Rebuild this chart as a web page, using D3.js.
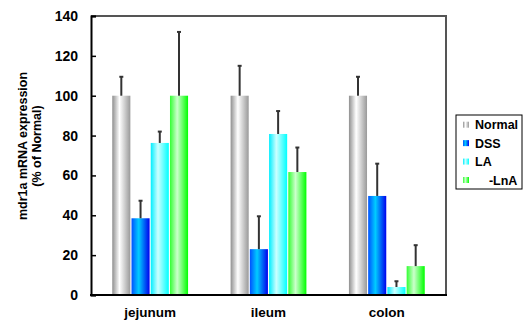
<!DOCTYPE html>
<html>
<head>
<meta charset="utf-8">
<script src="https://cdn.jsdelivr.net/npm/d3@7"></script>
<style>
  body { margin: 0; background: #fff; }
  text { font-family: "Liberation Sans", Arial, sans-serif; font-weight: bold; }
</style>
</head>
<body>
<svg width="524" height="322"></svg>
<script>
// data
const categories = ['jejunum', 'ileum', 'colon'];
const series = ['Normal', 'DSS', 'LA', '-LnA'];
const legendLabels = ['Normal', 'DSS', 'LA', '    -LnA'];
const normalVals = [100, 100, 100];
const dssVals = [38.5, 23, 49.7];
const laVals = [76.3, 80.8, 4];
const lnaVals = [100, 61.7, 14.5];
const normalErr = [9.5, 15, 9.5];
const dssErr = [8.8, 16.5, 16.2];
const laErr = [5.7, 11.5, 2.9];
const lnaErr = [32, 12.3, 10.5];
const yTicks = [0, 20, 40, 60, 80, 100, 120, 140];

const values = [normalVals, dssVals, laVals, lnaVals];
const errs = [normalErr, dssErr, laErr, lnaErr];

// gradient stops per series: left edge, bright centre, right edge
const grads = [
  ['#8f8f8f', '#ffffff', '#999999'],
  ['#0050ff', '#00ccff', '#0000ee'],
  ['#00eeff', '#ccffff', '#00ffff'],
  ['#33ff33', '#ccffcc', '#00ff00']
];

const svg = d3.select('svg');
const pLeft = 91, pRight = 446, pTop = 16, pBottom = 295;

const x0 = d3.scaleBand().domain(categories).range([pLeft, pRight])
  .paddingInner(0.34).paddingOuter(0.17);
const x1 = d3.scaleBand().domain(series).range([0, x0.bandwidth()]).padding(0.06);
const y = d3.scaleLinear().domain([0, 140]).range([pBottom, pTop]);

// gradients
const defs = svg.append('defs');
grads.forEach((g, i) => {
  const lg = defs.append('linearGradient').attr('id', 'g' + i)
    .attr('x1', '0%').attr('x2', '100%').attr('y1', '0%').attr('y2', '0%');
  lg.append('stop').attr('offset', '0%').attr('stop-color', g[0]);
  lg.append('stop').attr('offset', '40%').attr('stop-color', g[1]);
  lg.append('stop').attr('offset', '100%').attr('stop-color', g[2]);
});

// bars + error bars
const rows = [];
categories.forEach((c, ci) => {
  series.forEach((s, si) => {
    rows.push({cat: c, s: s, si: si, v: values[si][ci], e: errs[si][ci]});
  });
});

const bars = svg.append('g');
bars.selectAll('rect').data(rows).enter().append('rect')
  .attr('x', d => x0(d.cat) + x1(d.s))
  .attr('y', d => y(d.v))
  .attr('width', x1.bandwidth())
  .attr('height', d => y(0) - y(d.v))
  .attr('fill', d => 'url(#g' + d.si + ')');

const eb = svg.append('g').attr('stroke', '#333').attr('stroke-width', 2);
eb.selectAll('line.v').data(rows).enter().append('line')
  .attr('class', 'v')
  .attr('x1', d => x0(d.cat) + x1(d.s) + x1.bandwidth() / 2)
  .attr('x2', d => x0(d.cat) + x1(d.s) + x1.bandwidth() / 2)
  .attr('y1', d => y(d.v))
  .attr('y2', d => y(d.v + d.e));
eb.selectAll('line.c').data(rows).enter().append('line')
  .attr('class', 'c')
  .attr('x1', d => x0(d.cat) + x1(d.s) + x1.bandwidth() / 2 - 2)
  .attr('x2', d => x0(d.cat) + x1(d.s) + x1.bandwidth() / 2 + 2)
  .attr('y1', d => y(d.v + d.e))
  .attr('y2', d => y(d.v + d.e));

// plot frame: grey top/right, black left/bottom
svg.append('path')
  .attr('d', `M${pLeft},${pTop}H${pRight}V${pBottom}`)
  .attr('fill', 'none').attr('stroke', '#555').attr('stroke-width', 2);

const yAxis = svg.append('g').attr('transform', `translate(${pLeft},0)`)
  .call(d3.axisRight(y).tickValues(yTicks).tickSize(5).tickFormat(''));
yAxis.select('.domain').attr('stroke', '#000').attr('stroke-width', 2);
yAxis.selectAll('.tick line').attr('stroke', '#000').attr('stroke-width', 1.5);

svg.append('g').selectAll('text').data(yTicks).enter().append('text')
  .attr('x', 78).attr('y', d => y(d) + 5)
  .attr('text-anchor', 'end').attr('font-size', 14)
  .text(d => d);

svg.append('line')
  .attr('x1', pLeft - 1).attr('x2', pRight + 1)
  .attr('y1', pBottom).attr('y2', pBottom)
  .attr('stroke', '#000').attr('stroke-width', 2);

// category labels
svg.append('g').selectAll('text').data(categories).enter().append('text')
  .attr('x', d => x0(d) + x0.bandwidth() / 2)
  .attr('y', 317)
  .attr('text-anchor', 'middle').attr('font-size', 13.5)
  .text(d => d);

// y title
const yt = svg.append('text')
  .attr('transform', 'translate(0,146) rotate(-90)')
  .attr('text-anchor', 'middle').attr('font-size', 12.5);
yt.append('tspan').attr('x', 0).attr('y', 27).text('mdr1a mRNA expression');
yt.append('tspan').attr('x', 0).attr('y', 41).text('(% of Normal)');

// legend
const lgd = svg.append('g');
lgd.append('rect').attr('x', 456).attr('y', 115).attr('width', 66).attr('height', 74)
  .attr('fill', '#fff').attr('stroke', '#000').attr('stroke-width', 1);
const ly = d3.scalePoint().domain(series).range([124.7, 180]);
lgd.selectAll('rect.sw').data(series).enter().append('rect')
  .attr('class', 'sw')
  .attr('x', 463).attr('y', d => ly(d) - 3)
  .attr('width', 6).attr('height', 6)
  .attr('fill', (d, i) => 'url(#g' + i + ')');
lgd.selectAll('text').data(series).enter().append('text')
  .attr('x', 475).attr('y', d => ly(d) + 4.5)
  .attr('font-size', 12.5)
  .style('white-space', 'pre')
  .text((d, i) => legendLabels[i]);
</script>
</body>
</html>
